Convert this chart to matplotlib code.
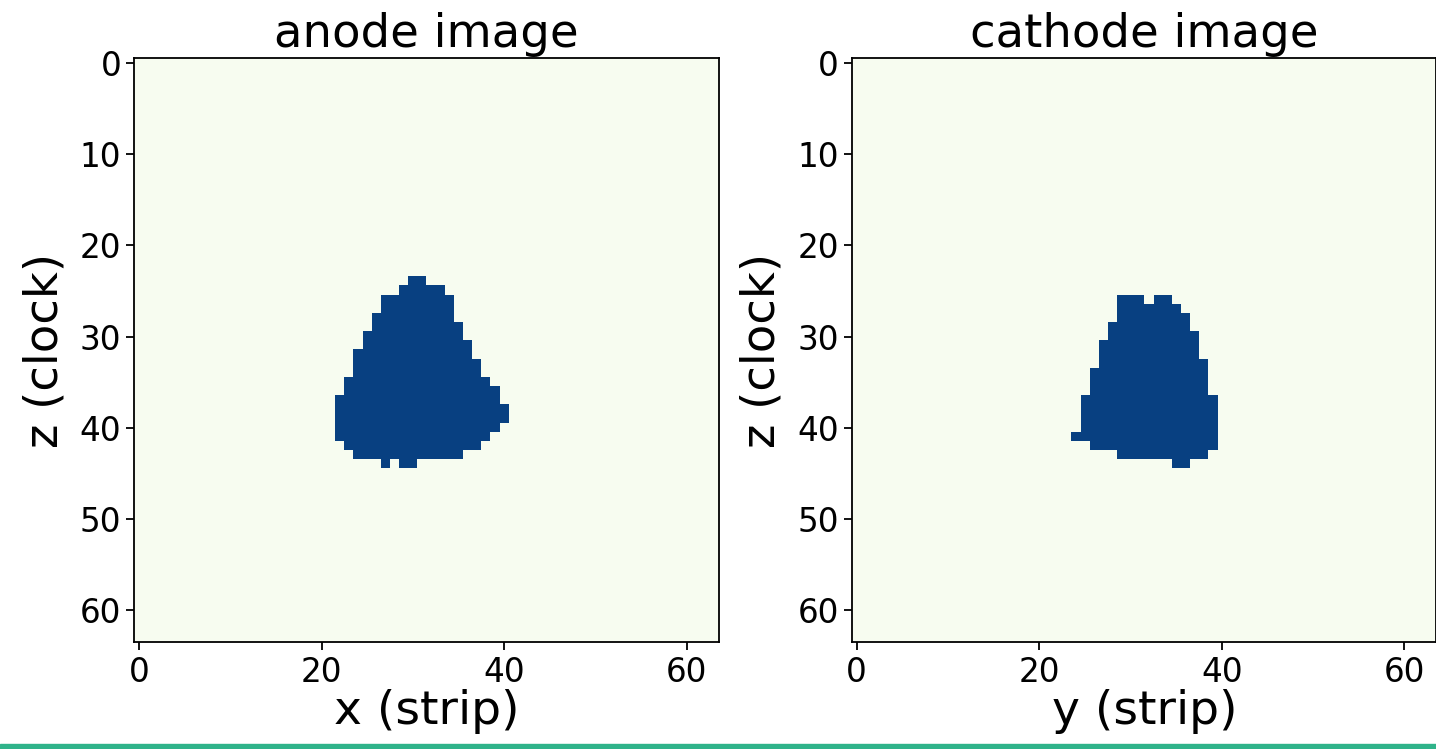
import numpy as np
import matplotlib
matplotlib.use("Agg")
import matplotlib.pyplot as plt
from matplotlib.patches import Rectangle

# image size (strips x clock ticks)
n_pix = 64

# hit pixels per clock row: (row, [(first strip, last strip), ...])
anode_rows = [
    (24, [(30, 31)]),
    (25, [(29, 33)]),
    (26, [(27, 34)]),
    (27, [(27, 34)]),
    (28, [(26, 34)]),
    (29, [(26, 35)]),
    (30, [(25, 35)]),
    (31, [(25, 36)]),
    (32, [(24, 36)]),
    (33, [(24, 37)]),
    (34, [(24, 37)]),
    (35, [(23, 38)]),
    (36, [(23, 39)]),
    (37, [(22, 39)]),
    (38, [(22, 40)]),
    (39, [(22, 40)]),
    (40, [(22, 39)]),
    (41, [(22, 38)]),
    (42, [(23, 37)]),
    (43, [(24, 35)]),
    (44, [(27, 27), (29, 30)]),
]

cathode_rows = [
    (26, [(29, 31), (33, 34)]),
    (27, [(29, 35)]),
    (28, [(29, 36)]),
    (29, [(28, 36)]),
    (30, [(28, 37)]),
    (31, [(27, 37)]),
    (32, [(27, 37)]),
    (33, [(27, 38)]),
    (34, [(26, 38)]),
    (35, [(26, 38)]),
    (36, [(26, 38)]),
    (37, [(25, 39)]),
    (38, [(25, 39)]),
    (39, [(25, 39)]),
    (40, [(25, 39)]),
    (41, [(24, 39)]),
    (42, [(26, 39)]),
    (43, [(29, 38)]),
    (44, [(35, 36)]),
]

titles = ["anode image", "cathode image"]
xlabels = ["x (strip)", "y (strip)"]
ylabel = "z (clock)"


def build_image(rows):
    img = np.zeros((n_pix, n_pix))
    for r, spans in rows:
        for c0, c1 in spans:
            img[r, c0:c1 + 1] = 1
    return img


images = [build_image(anode_rows), build_image(cathode_rows)]

fig = plt.figure(figsize=(14.36, 7.49), dpi=100)
lefts = [0.0936, 0.5934]

for left, img, title, xl in zip(lefts, images, titles, xlabels):
    ax = fig.add_axes([left, 0.1423, 0.4069, 0.780])
    ax.imshow(img, cmap="GnBu", vmin=0, vmax=1, interpolation="nearest")
    ax.set_title(title, fontsize=33.5, pad=8)
    ax.set_xlabel(xl, fontsize=34, labelpad=0)
    ax.set_ylabel(ylabel, fontsize=33.5, labelpad=9)
    ax.set_xticks([0, 20, 40, 60])
    ax.set_yticks([0, 10, 20, 30, 40, 50, 60])
    ax.tick_params(labelsize=23.5, length=6, width=1.3)
    for sp in ax.spines.values():
        sp.set_linewidth(1.3)

# accent bar along the bottom edge
fig.patches.append(Rectangle((0, 0), 1, 5 / 749, transform=fig.transFigure,
                             color="#2fb38a", zorder=10))

fig.savefig("out.png", dpi=100)
